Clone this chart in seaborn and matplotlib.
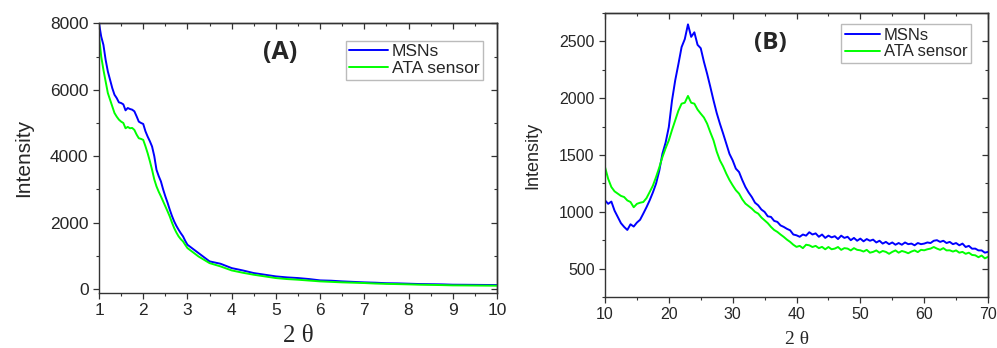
import numpy as np
import pandas as pd
import matplotlib
matplotlib.use("Agg")
import matplotlib.pyplot as plt
from matplotlib.ticker import MultipleLocator
import seaborn as sns

# ---------------- data ----------------
# Panel A: low-angle XRD (2θ from 1 to 3 every 0.05, then every 0.25 to 10)
a_x = list(np.round(np.arange(1.0, 3.0001, 0.05), 2)) + list(np.arange(3.25, 10.0001, 0.25))
a_msn = [8000, 7600, 7350, 6900, 6550, 6300, 6050, 5850, 5750, 5620,
         5600, 5560, 5380, 5450, 5420, 5400, 5350, 5200, 5040, 5000,
         4970, 4750, 4590, 4450, 4290, 4000, 3590, 3400, 3240, 3000,
         2790, 2600, 2390, 2200, 2035, 1900, 1785, 1680, 1585, 1450, 1333,
         1083, 832, 760, 630, 560, 480, 430, 380, 350, 330, 300, 260, 250, 230,
         215, 200, 190, 175, 170, 160, 150, 145, 140, 130, 128, 125, 122, 120]
a_ata = [7620, 7000, 6600, 6250, 5900, 5700, 5500, 5300, 5190, 5100,
         5040, 5000, 4840, 4880, 4840, 4850, 4790, 4650, 4540, 4520,
         4490, 4300, 4090, 3850, 3590, 3300, 3090, 2930, 2790, 2640,
         2490, 2340, 2185, 2000, 1835, 1700, 1585, 1500, 1433, 1330, 1233,
         980, 780, 680, 560, 490, 430, 380, 330, 300, 280, 255, 230, 215, 200,
         190, 180, 165, 155, 148, 140, 130, 125, 118, 110, 108, 105, 102, 100]

# Panel B: wide-angle XRD (2θ from 10 to 70 every 0.5)
b_x = list(np.arange(10.0, 70.0001, 0.5))
b_msn = [1101, 1070, 1090, 1010, 955, 900, 867, 840, 890, 870,
         905, 930, 984, 1040, 1101, 1170, 1248, 1360, 1512, 1610,
         1746, 1980, 2157, 2300, 2450, 2520, 2650, 2540, 2580, 2470,
         2440, 2320, 2215, 2100, 1981, 1870, 1776, 1690, 1600, 1510,
         1453, 1380, 1350, 1280, 1218, 1170, 1130, 1080, 1057, 1020,
         999, 960, 955, 920, 911, 880, 867, 850, 837, 800,
         793, 780, 800, 790, 820, 800, 810, 780, 800, 770,
         790, 775, 785, 760, 790, 770, 780, 750, 770, 745,
         764, 740, 760, 745, 755, 730, 745, 720, 735, 715,
         730, 710, 725, 710, 730, 715, 720, 705, 725, 715,
         720, 730, 725, 745, 750, 735, 745, 725, 735, 715,
         725, 705, 720, 690, 700, 675, 676, 660, 660, 640,
         647]
b_ata = [1394, 1290, 1218, 1180, 1160, 1140, 1130, 1100, 1086, 1040,
         1070, 1080, 1086, 1120, 1174, 1230, 1306, 1390, 1482, 1560,
         1629, 1720, 1805, 1890, 1952, 1960, 2020, 1960, 1952, 1900,
         1864, 1830, 1776, 1700, 1629, 1530, 1453, 1400, 1336, 1280,
         1233, 1190, 1160, 1110, 1072, 1050, 1028, 1000, 984, 950,
         925, 900, 867, 840, 823, 800, 779, 755, 735, 710,
         691, 700, 680, 710, 705, 690, 700, 680, 691, 670,
         690, 670, 676, 690, 665, 680, 676, 660, 680, 665,
         661, 650, 665, 640, 647, 660, 640, 655, 647, 630,
         647, 660, 640, 655, 647, 635, 650, 660, 645, 665,
         661, 670, 676, 690, 676, 665, 680, 660, 661, 650,
         660, 640, 647, 630, 640, 620, 617, 600, 615, 590,
         603]

series_names = ["MSNs", "ATA sensor"]
colors = ["#0000ff", "#00ff00"]

# ---------------- style ----------------
sns.set_style("ticks")
plt.rcParams["font.family"] = ["Liberation Sans", "DejaVu Sans"]

fig = plt.figure(figsize=(9.97, 3.48), dpi=100)
axA = fig.add_axes([0.0993, 0.159, 0.3992, 0.774])
axB = fig.add_axes([0.6068, 0.1466, 0.3842, 0.816])

dfA = pd.DataFrame({"x": a_x * 2, "y": a_msn + a_ata,
                    "s": [series_names[0]] * len(a_x) + [series_names[1]] * len(a_x)})
dfB = pd.DataFrame({"x": b_x * 2, "y": b_msn + b_ata,
                    "s": [series_names[0]] * len(b_x) + [series_names[1]] * len(b_x)})

for ax, df in ((axA, dfA), (axB, dfB)):
    sns.lineplot(data=df, x="x", y="y", hue="s", palette=colors, ax=ax,
                 linewidth=1.4, sort=False, estimator=None)

# Axes A
axA.set_xlim(1, 10)
axA.set_ylim(-110, 8000)
axA.set_xlabel("2 θ", fontsize=18, family=["Liberation Serif", "DejaVu Serif"], labelpad=5)
axA.set_ylabel("Intensity", fontsize=15, labelpad=12)
axA.tick_params(labelsize=12.5)
axA.text(0.455, 0.893, "(A)", transform=axA.transAxes, fontsize=18, fontweight="bold",
         family=["Open Sans", "DejaVu Sans"], ha="center", va="center")

# Axes B
axB.set_xlim(10, 70)
axB.set_ylim(250, 2750)
axB.set_xlabel("2 θ", fontsize=14, family=["Liberation Serif", "DejaVu Serif"], labelpad=6)
axB.set_ylabel("Intensity", fontsize=13, labelpad=13)
axB.tick_params(labelsize=11.5)
axB.text(0.433, 0.894, "(B)", transform=axB.transAxes, fontsize=17.5, fontweight="bold",
         family=["Open Sans", "DejaVu Sans"], ha="center", va="center")

locs = {axA: (1, 0.5, 2000, 1000), axB: (10, 5, 500, 250)}
for ax in (axA, axB):
    xm, xn, ym, yn = locs[ax]
    ax.xaxis.set_major_locator(MultipleLocator(xm))
    ax.xaxis.set_minor_locator(MultipleLocator(xn))
    ax.yaxis.set_major_locator(MultipleLocator(ym))
    ax.yaxis.set_minor_locator(MultipleLocator(yn))
    for sp in ax.spines.values():
        sp.set_visible(True)
        sp.set_color("#333333")
        sp.set_linewidth(1.0)
    ax.tick_params(which="both", direction="out", color="#333333")
    ax.tick_params(which="major", length=4, width=0.9)
    ax.tick_params(which="minor", length=2.5, width=0.8)
    # mirrored inward ticks on top and right
    top = ax.secondary_xaxis("top")
    top.xaxis.set_major_locator(MultipleLocator(xm))
    top.xaxis.set_minor_locator(MultipleLocator(xn))
    right = ax.secondary_yaxis("right")
    right.yaxis.set_major_locator(MultipleLocator(ym))
    right.yaxis.set_minor_locator(MultipleLocator(yn))
    for sec in (top, right):
        sec.tick_params(which="both", direction="in", color="#333333",
                        labeltop=False, labelright=False, labelbottom=False, labelleft=False)
        sec.tick_params(which="major", length=4, width=0.9)
        sec.tick_params(which="minor", length=2.5, width=0.8)
        for sp in sec.spines.values():
            sp.set_color("#333333")
            sp.set_linewidth(1.0)

legA = axA.legend(loc="upper right", frameon=True, fancybox=False, fontsize=12.5,
                  handlelength=2.2, handletextpad=0.25, borderpad=0.2,
                  labelspacing=0.1, borderaxespad=0.0,
                  bbox_to_anchor=(0.965, 0.935), bbox_transform=axA.transAxes)
legB = axB.legend(loc="upper right", frameon=True, fancybox=False, fontsize=12,
                  handlelength=2.1, handletextpad=0.25, borderpad=0.2,
                  labelspacing=0.1, borderaxespad=0.0,
                  bbox_to_anchor=(0.955, 0.96), bbox_transform=axB.transAxes)
for leg in (legA, legB):
    leg.get_frame().set_edgecolor("#aaaaaa")
    leg.get_frame().set_linewidth(1.0)
    for line in leg.get_lines():
        line.set_linewidth(1.4)

fig.savefig("out.png", dpi=100)
